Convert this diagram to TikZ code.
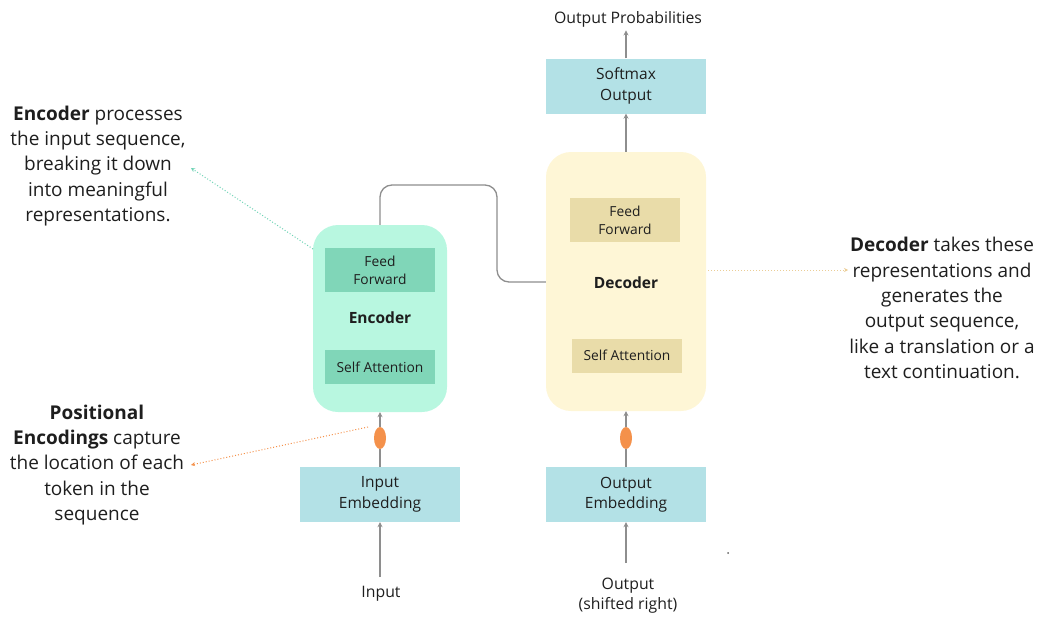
\documentclass[tikz,border=0pt]{standalone}
\usepackage{fontspec}
\setmainfont{Open Sans}
\usetikzlibrary{arrows.meta,shapes.geometric}
\definecolor{tealbox}{HTML}{B3E1E6}
\definecolor{encfill}{HTML}{B8F7E0}
\definecolor{encin}{HTML}{80D6B8}
\definecolor{decfill}{HTML}{FEF6D6}
\definecolor{decin}{HTML}{E9DCA9}
\definecolor{orng}{HTML}{F4914B}
\definecolor{arr}{HTML}{8E8E8E}
\definecolor{tealdot}{HTML}{6FD3B5}
\definecolor{txt}{HTML}{1E1E1E}
\begin{document}
\begin{tikzpicture}[x=1pt,y=-1pt,
  every node/.style={text=txt},
  plainbox/.style={fill=tealbox,draw=none,minimum width=160pt,minimum height=55pt,align=center,font=\fontsize{15.5}{20.5}\selectfont,inner sep=0pt},
  bigbox/.style={draw=none,rounded corners=25pt,inner sep=0pt},
  inbox/.style={draw=none,minimum width=110pt,align=center,font=\fontsize{13.8}{18}\selectfont,inner sep=0pt},
  pe/.style={fill=orng,draw=none,ellipse,minimum width=12pt,minimum height=22pt,inner sep=0pt},
  flow/.style={draw=arr,line width=1.3pt,-{Stealth[length=5pt,width=5pt]}},
  note/.style={align=center,font=\fontsize{19}{25.3}\selectfont},
  lbl/.style={align=center,font=\fontsize{15.8}{20}\selectfont}
]
\useasboundingbox (0,0) rectangle (1039,616);
% big boxes
\node[bigbox,fill=encfill,minimum width=134pt,minimum height=187pt] (enc) at (380,318.5) {};
\node[bigbox,fill=decfill,minimum width=160pt,minimum height=259pt] (dec) at (626,281.5) {};
\node[inbox,fill=encin,minimum height=44pt] (eff) at (380,270) {Feed\\Forward};
\node[inbox,fill=encin,minimum height=34pt] (esa) at (380,367) {Self Attention};
\node[font=\fontsize{15.5}{18}\selectfont\bfseries] (enct) at (380,318) {Encoder};
\node[inbox,fill=decin,minimum height=44pt] (dff) at (625,220) {Feed\\Forward};
\node[inbox,fill=decin,minimum height=34pt] (dsa) at (627,355.5) {Self Attention};
\node[font=\fontsize{15.5}{18}\selectfont\bfseries] (dect) at (626,283) {Decoder};
% plain boxes
\node[plainbox] (soft) at (626,86) {Softmax\\Output};
\node[plainbox] (iemb) at (380,494.5) {Input\\Embedding};
\node[plainbox] (oemb) at (626,494.5) {Output\\Embedding};
\node[lbl] (prob) at (628,19) {Output Probabilities};
\node[lbl] (inp) at (381,594) {Input};
\node[lbl] (outp) at (628,596) {Output\\(shifted right)};
\node[pe] (pe1) at (380,438) {};
\node[pe] (pe2) at (626,438) {};
% flows
\coordinate (ia) at (380,577);
\coordinate (oa) at (626,563);
\draw[flow] (ia) -- (iemb.south);
\draw[flow] (oa) -- (oemb.south);
\draw[draw=arr,line width=1.3pt] (iemb.north) -- (pe1.south);
\draw[draw=arr,line width=1.3pt] (oemb.north) -- (pe2.south);
\draw[flow] (pe1.north) -- (enc.south);
\draw[flow] (pe2.north) -- (dec.south);
\draw[flow] (dec.north) -- (soft.south);
\draw[flow] (soft.north) -- (soft.north |- prob.south);
\draw[draw=arr,line width=1.3pt,rounded corners=12pt] (enc.north) -- (380,185) -- (497,185) -- (497,282) -- (dec.west |- 0,282);
% annotations
\node[note] (encn) at (98,166) {\textbf{Encoder} processes\\the input sequence,\\breaking it down\\into meaningful\\representations.};
\node[note] (decn) at (942,308) {\textbf{Decoder} takes these\\representations and\\generates the\\output sequence,\\like a translation or a\\text continuation.};
\node[note] (pen) at (97,465) {\textbf{Positional}\\\textbf{Encodings} capture\\the location of each\\token in the\\sequence};
\coordinate (ea) at (313,249);
\coordinate (eb) at (191,168);
\draw[tealdot,line width=1pt,dotted,-{Stealth[length=4pt,width=4pt]}] (ea) -- (eb);
\coordinate (da) at (708,270);
\coordinate (db) at (848,270);
\draw[decin!80!orng,line width=1pt,dotted,-{Stealth[length=4pt,width=4pt]}] (da) -- (db);
\coordinate (pa) at (368,427);
\coordinate (pb) at (191,465);
\draw[orng,line width=1pt,dotted,-{Stealth[length=4pt,width=4pt]}] (pa) -- (pb);
\fill[txt!70] (728,553) circle (1pt);
\end{tikzpicture}
\end{document}
